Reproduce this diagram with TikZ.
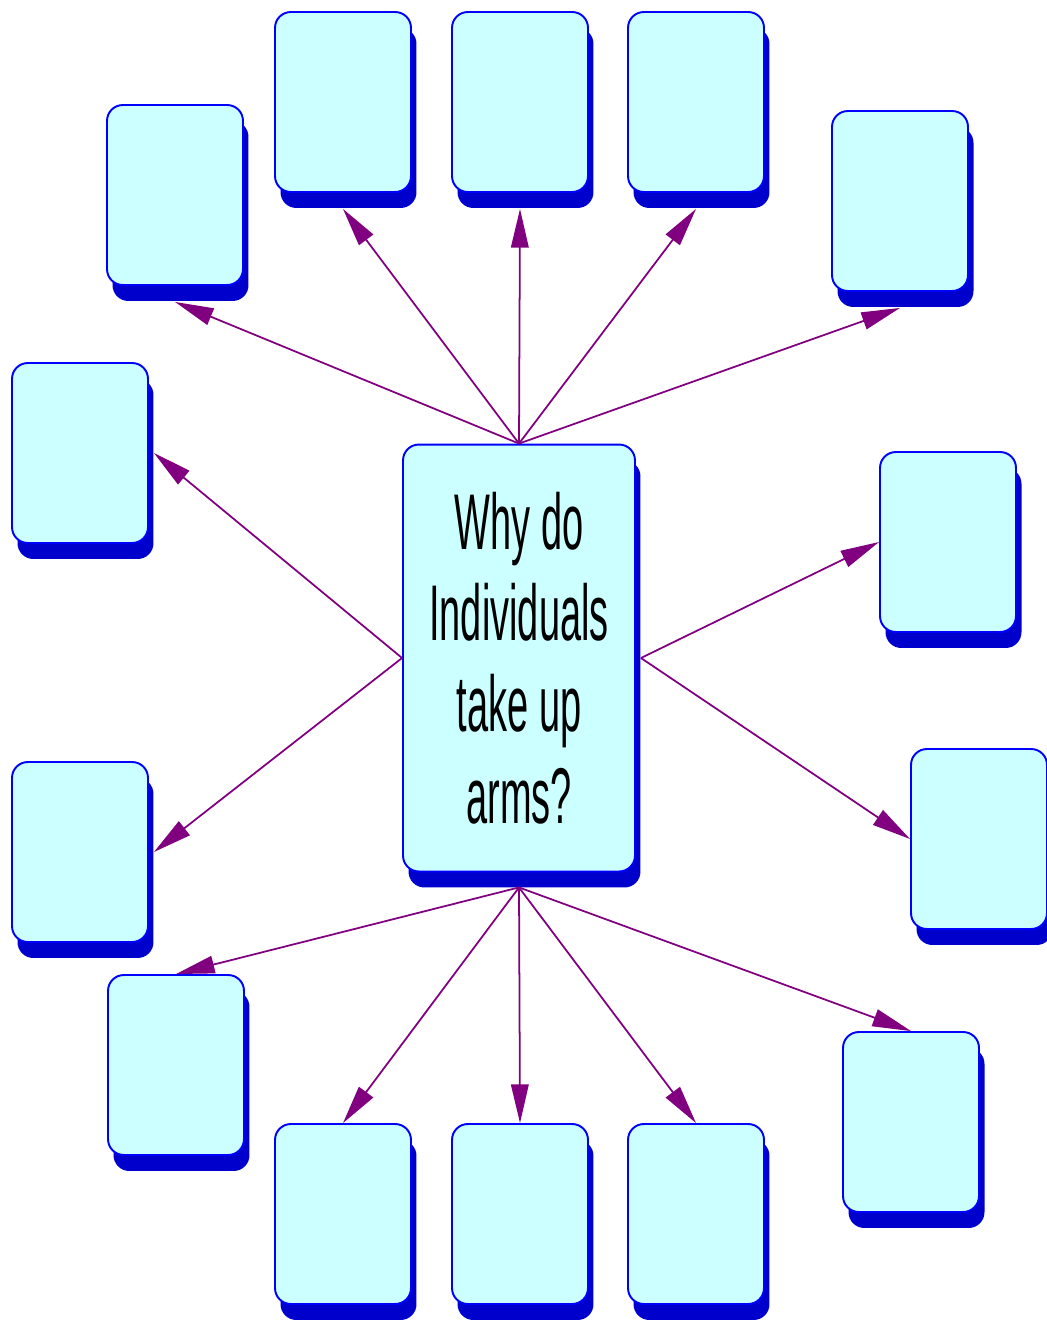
\documentclass[tikz,border=0pt]{standalone}
\usepackage{fontspec}
\newfontfamily\narrowfont[FakeStretch=0.48]{Liberation Sans}
\usetikzlibrary{arrows.meta,shadows}
\definecolor{boxfill}{RGB}{204,255,255}
\definecolor{boxline}{RGB}{0,0,255}
\definecolor{boxshadow}{RGB}{0,0,204}
\definecolor{linkpurple}{RGB}{128,0,128}
\tikzset{
  idea/.style={draw=boxline, line width=1.1pt, fill=boxfill, rounded corners=9pt,
    minimum width=2.72cm, minimum height=3.6cm,
    general shadow={fill=boxshadow, shadow xshift=0.11cm, shadow yshift=-0.32cm}},
  link/.style={draw=linkpurple, line width=1pt, -{Triangle[length=22pt,width=10pt]}}
}
\begin{document}
\begin{tikzpicture}[x=0.02cm,y=-0.02cm]
\useasboundingbox (0,0) rectangle (1046,1321);

% the question in the middle
\node[idea, minimum width=4.64cm, minimum height=8.54cm, align=center,
  font=\narrowfont\fontsize{45}{52}\selectfont] (q) at (519,658)
  {Why do\\Individuals\\take up\\arms?};

% empty boxes round it
\foreach \n/\x/\y in {b1/175/195, b2/343/102, b3/520/102, b4/696/102, b5/900/201,
    b6/80/453, b7/948/542, b8/80/852, b9/979/839,
    b10/176/1065, b11/343/1214, b12/520/1214, b13/696/1214, b14/911/1122}
  \node[idea] (\n) at (\x,\y) {};

% arrows out of the question
\foreach \b in {b1,b2,b3,b4,b5}
  \draw[link] (q.north) -- ([yshift=-0.32cm]\b.south);
\foreach \b in {b6,b8}
  \draw[link] (q.west) -- ([xshift=0.1cm]\b.east);
\foreach \b in {b7,b9}
  \draw[link] ([xshift=0.1cm]q.east) -- (\b.west);
\foreach \b in {b10,b11,b12,b13,b14}
  \draw[link] ([yshift=-0.3cm]q.south) -- (\b.north);
\end{tikzpicture}
\end{document}
